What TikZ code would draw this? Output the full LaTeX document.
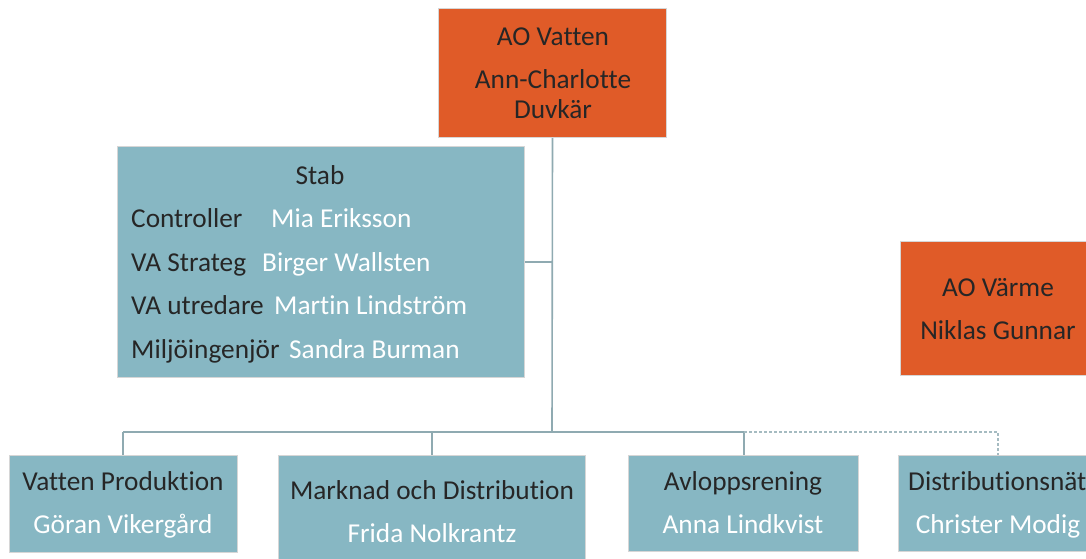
\documentclass[tikz,border=0pt]{standalone}
\usepackage{fontspec}
\setmainfont{Carlito}[Ligatures=NoCommon]
\definecolor{aoorange}{RGB}{224,91,40}
\definecolor{unitblue}{RGB}{135,183,195}
\definecolor{linkc}{RGB}{143,170,177}
\definecolor{txtdark}{RGB}{38,38,38}
\begin{document}
\begin{tikzpicture}[x=1pt,y=-1pt,
  box/.style={draw=black!16,line width=1pt,inner sep=0pt,anchor=north west},
  orangebox/.style={box,fill=aoorange},
  bluebox/.style={box,fill=unitblue},
  titletxt/.style={text=txtdark,font=\fontsize{27.3}{31}\selectfont,inner sep=0pt,anchor=base},
  persontxt/.style={text=white,font=\fontsize{27.3}{31}\selectfont,inner sep=0pt,anchor=base},
  link/.style={draw=linkc,line width=1.6pt},
  dlink/.style={draw=linkc!80,line width=1.6pt,dash pattern=on 3pt off 2pt}]
\useasboundingbox (0,0) rectangle (1086,558);
\clip (0,0) rectangle (1086,558);
\fill[white] (0,0) rectangle (1086,558);

% boxes
\node[orangebox,minimum width=228pt,minimum height=129pt] (vatten) at (438,8) {};
\node[bluebox,minimum width=407pt,minimum height=231pt] (stab) at (117,146) {};
\node[orangebox,minimum width=200pt,minimum height=134pt] (varme) at (900,241) {};
\node[bluebox,minimum width=228pt,minimum height=97pt] (prod) at (9,455) {};
\node[bluebox,minimum width=307pt,minimum height=110pt] (mark) at (278,455) {};
\node[bluebox,minimum width=230pt,minimum height=96pt] (avl) at (628,455) {};
\node[bluebox,minimum width=200pt,minimum height=96pt] (dist) at (898,455) {};

% connectors
\coordinate (bus) at (552,432);
\coordinate (busL) at (123,432);
\coordinate (busM) at (432,432);
\coordinate (busA) at (744,432);
\coordinate (busD) at (998,432);
\coordinate (stabj) at (552,262);
\draw[link] (vatten.south) -- (bus);
\draw[link] (stab.east |- stabj) -- (stabj);
\draw[link] (busL) -- (busA);
\draw[link] (busL) -- (busL |- prod.north);
\draw[link] (busM) -- (busM |- mark.north);
\draw[link] (busA) -- (busA |- avl.north);
\draw[dlink] (busA) -- (busD) -- (busD |- dist.north);

% texts
\node[titletxt] (t1) at (553,45) {AO Vatten};
\node[titletxt] (t2) at (553,88) {Ann-Charlotte};
\node[titletxt] (t3) at (553,118) {Duvkär};

\node[titletxt] (s0) at (320,184.5) {Stab};
\node[titletxt,anchor=base west] (s1) at (131,227.5) {Controller};
\node[persontxt,anchor=base west] (n1) at (271,227.5) {Mia Eriksson};
\node[titletxt,anchor=base west] (s2) at (131,271) {VA Strateg};
\node[persontxt,anchor=base west] (n2) at (262,271) {Birger Wallsten};
\node[titletxt,anchor=base west] (s3) at (131,314) {VA utredare};
\node[persontxt,anchor=base west] (n3) at (274,314) {Martin Lindström};
\node[titletxt,anchor=base west] (s4) at (131,358) {Miljöingenjör};
\node[persontxt,anchor=base west] (n4) at (289,358) {Sandra Burman};

\node[titletxt] (v1) at (998,296) {AO Värme};
\node[titletxt] (v2) at (998,339) {Niklas Gunnar};

\node[titletxt] (p1) at (123,490) {Vatten Produktion};
\node[persontxt] (p2) at (123,533) {Göran Vikergård};
\node[titletxt] (m1) at (432,499) {Marknad och Distribution};
\node[persontxt] (m2) at (432,542) {Frida Nolkrantz};
\node[titletxt] (a1) at (743,490) {Avloppsrening};
\node[persontxt] (a2) at (743,533) {Anna Lindkvist};
\node[titletxt,anchor=base west] (d1) at (908,490) {Distributionsnät};
\node[persontxt] (d2) at (998,533) {Christer Modig};
\end{tikzpicture}
\end{document}
